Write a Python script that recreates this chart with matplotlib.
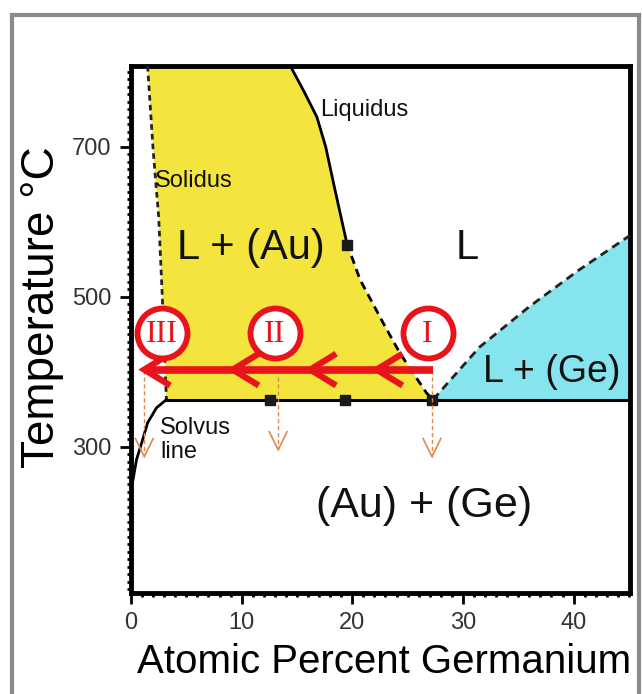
import matplotlib
matplotlib.use("Agg")
import matplotlib.pyplot as plt
from matplotlib.lines import Line2D
from matplotlib.ticker import MultipleLocator

# ---- data ------------------------------------------------------------------
solidus_x = [1.5, 2.0, 2.5, 2.8, 3.2]
solidus_t = [808, 696, 607, 510, 363]

liq_au_x = [14.4, 15.6, 16.8, 17.6, 18.3, 19.5, 20.7, 22.8, 24.3, 26.7, 27.3]
liq_au_t = [808, 775, 740, 700, 652, 572, 523, 465, 425, 372, 363]
liq_au_split = 5  # solid above this index, dashed below

solvus_x = [3.2, 2.3, 1.5, 0.96, 0.5, 0.18, 0.0]
solvus_t = [363, 352, 332, 305, 283, 256, 245]

liq_ge_x = [27.3, 31.5, 36.0, 40.5, 45.1]
liq_ge_t = [363, 433, 487, 536, 582]

eutectic_t = 363
eutectic_x = [3.2, 45.1]

node_x = [12.6, 19.3, 27.2, 19.5]
node_t = [363, 363, 363, 569]

path_t = 403
path_x = [27.3, 1.2]
chevron_x = [1.2, 9.2, 16.2, 22.2]

step_labels = ["I", "II", "III"]
step_x = [26.8, 13.0, 2.8]
step_t = 452

drop_x = [27.2, 13.3, 1.2]
drop_t0 = [403, 393, 403]
drop_t1 = [287, 296, 287]

xlim = (0, 45.1)
ylim = (105, 808)

YELLOW = "#F3E43E"
CYAN = "#86E4EE"
RED = "#E8141C"
ORANGE = "#E2874E"

plt.rcParams["font.family"] = ["Liberation Sans", "DejaVu Sans"]

fig = plt.figure(figsize=(6.42, 6.94), dpi=100)
ax = fig.add_axes([131 / 642, 1 - 593 / 694, 499 / 642, 527 / 694])
ax.set_xlim(*xlim)
ax.set_ylim(*ylim)

# phase fields
ax.fill(solidus_x + [liq_au_x[-1]] + liq_au_x[::-1],
        solidus_t + [eutectic_t] + liq_au_t[::-1],
        color=YELLOW, lw=0, zorder=1)
ax.fill(liq_ge_x + [liq_ge_x[-1]], liq_ge_t + [eutectic_t],
        color=CYAN, lw=0, zorder=1)

# boundaries
ax.plot(solidus_x, solidus_t, color="#222222", lw=2, ls=(0, (2, 1.5)), zorder=3)
ax.plot(liq_au_x[:liq_au_split + 1], liq_au_t[:liq_au_split + 1],
        color="black", lw=2, zorder=3)
ax.plot(liq_au_x[liq_au_split:], liq_au_t[liq_au_split:],
        color="black", lw=2, ls=(0, (3, 2)), zorder=3)
ax.plot(solvus_x, solvus_t, color="black", lw=2, zorder=3)
ax.plot(liq_ge_x, liq_ge_t, color="#222222", lw=2, ls=(0, (3, 2)), zorder=3)
ax.plot(eutectic_x, [eutectic_t] * 2, color="black", lw=2.2, zorder=3)
ax.plot(node_x, node_t, ls="none", marker="s", ms=7, color="#1a1a1a", zorder=4)

# cooling path (red arrow with chevrons)
ax.plot(path_x, [path_t] * 2, color=RED, lw=5.5, solid_capstyle="butt", zorder=5)
for cx in chevron_x:
    ax.plot([cx + 2.1, cx, cx + 2.1], [path_t + 19, path_t, path_t - 19],
            color=RED, lw=4.5, solid_joinstyle="miter", zorder=5)

# step markers
ax.plot(step_x, [step_t] * len(step_x), ls="none", marker="o", ms=36,
        mfc="white", mec=RED, mew=4.2, zorder=6)
for lab, sx in zip(step_labels, step_x):
    ax.text(sx, step_t - 2, lab, color=RED, fontsize=23, ha="center", va="center",
            family=["Liberation Serif", "DejaVu Serif"], zorder=7)

# composition drops
for dx, t0, t1 in zip(drop_x, drop_t0, drop_t1):
    ax.plot([dx, dx], [t0, t1], color=ORANGE, lw=1, ls=(0, (3, 2)), zorder=4)
    ax.plot([dx - 0.8, dx, dx + 0.8], [t1 + 24, t1, t1 + 24], color=ORANGE,
            lw=1.2, zorder=4)

# labels inside the diagram (pixel positions from top-left)
px_labels = [
    (320, 110, "Liquidus", 17, "left"),
    (155, 181, "Solidus", 17, "left"),
    (160, 440, "Solvus\nline", 17, "left"),
    (251, 248, "L + (Au)", 30, "center"),
    (467, 248, "L", 30, "center"),
    (552, 372, "L + (Ge)", 27, "center"),
    (424, 506, "(Au) + (Ge)", 31, "center"),
]
for x, y, s, fs, ha in px_labels:
    ax.text(x / 100, (694 - y) / 100, s, transform=fig.dpi_scale_trans,
            fontsize=fs, ha=ha, va="center", color="#111111", linespacing=1.1)

# axes styling
for s in ax.spines.values():
    s.set_linewidth(3.5)
    s.set_color("black")
ax.set_xticks([0, 10, 20, 30, 40])
ax.set_yticks([300, 500, 700])
ax.xaxis.set_minor_locator(MultipleLocator(1))
ax.yaxis.set_minor_locator(MultipleLocator(10))
ax.tick_params(which="major", direction="out", length=8, width=2,
               labelsize=17, labelcolor="#333333", pad=6)
ax.tick_params(which="minor", direction="out", length=3, width=2)
ax.tick_params(top=False, right=False, which="both")

fig.text(384 / 642, 1 - 662 / 694, "Atomic Percent Germanium", fontsize=29,
         ha="center", va="center")
fig.text(42 / 642, 1 - 307 / 694, "Temperature °C", fontsize=33,
         ha="center", va="center", rotation=90)

# outer grey frame
frame = dict(color="#8a8a8a", lw=3, transform=fig.transFigure)
fig.add_artist(Line2D([12 / 642, 12 / 642], [0, 1 - 15 / 694], **frame))
fig.add_artist(Line2D([12 / 642, 639 / 642], [1 - 15 / 694, 1 - 15 / 694], **frame))
fig.add_artist(Line2D([639 / 642, 639 / 642], [0, 1 - 15 / 694], **frame))

fig.savefig("out.png", dpi=100)
